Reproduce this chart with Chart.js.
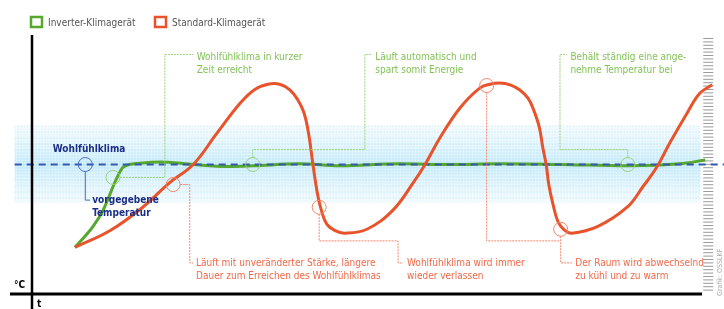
<!DOCTYPE html>
<html>
<head>
<meta charset="utf-8">
<script src="https://cdn.jsdelivr.net/npm/chart.js@4.4.1/dist/chart.umd.min.js"></script>
<style>
  html, body { margin: 0; padding: 0; background: #fff; }
  #chart { display: block; }
</style>
</head>
<body>
<canvas id="chart" width="724" height="309"></canvas>
<script>
// time (t) and temperature offset from the target (°C)
const inverterTime = [6.2, 8.8, 10.3, 12.3, 13.2, 15.6, 18.5, 23.3, 28.2, 31.9, 38.7, 44.5, 53.2, 60.4, 67.6, 76.3, 86.1, 93.6, 97.3];
const inverterTemp = [-6.4, -4.8, -3.5, -1.0, -0.2, 0.1, 0.2, 0.0, -0.15, -0.1, 0.05, -0.1, 0.05, 0.0, 0.05, 0.0, -0.1, 0.05, 0.35];

const standardTime = [6.2, 11.3, 16.0, 19.9, 23.3, 26.7, 30.1, 32.2, 34.1, 35.8, 37.3, 38.4, 39.3, 40.0, 40.6, 41.2, 41.8, 42.6, 43.8, 45.2, 48.4, 52.2, 55.1, 56.8, 59.0, 61.9, 64.7, 66.2, 67.6, 69.1, 70.5, 71.7, 72.5, 73.3, 73.8, 74.3, 74.7, 75.3, 76.0, 76.9, 78.0, 81.7, 86.0, 88.3, 90.3, 92.2, 94.7, 96.5, 98.3];
const standardTemp = [-6.4, -5.1, -3.3, -1.4, 0.0, 2.4, 4.75, 5.8, 6.2, 6.2, 5.75, 5.0, 4.0, 2.3, 0.0, -2.1, -3.5, -4.6, -5.1, -5.3, -5.0, -3.5, -1.4, 0.0, 2.1, 4.4, 5.9, 6.2, 6.3, 6.15, 5.75, 5.1, 4.2, 2.9, 1.35, 0.0, -1.6, -3.1, -4.4, -5.05, -5.3, -4.8, -3.3, -1.7, -0.2, 1.7, 4.0, 5.5, 6.15];

const targetTemp = 0;
const comfortBand = [-3, 3];

const seriesLabels = ['Inverter-Klimagerät', 'Standard-Klimagerät'];
const seriesColors = ['#55a82c', '#e8532b'];

const greenText = '#84c25a';
const orangeText = '#f0694a';
const navyText = '#1c2f86';
const font = '"Liberation Sans Narrow", "DejaVu Sans Condensed", "Roboto", sans-serif';

// callouts: circle on a curve, connector path (data units) and text
const notes = [
  { color: '#9ad27a', textColor: greenText, circle: [11.7, -1.0], path: [[11.7, -1.0], [19.2, -1.0], [19.2, 8.5], [23.3, 8.5]], textAt: [23.8, 8.3], lines: ['Wohlfühlklima in kurzer', 'Zeit erreicht'] },
  { color: '#9ad27a', textColor: greenText, circle: [31.9, 0], path: [[31.9, 0], [31.9, 1.15], [48.1, 1.15], [48.1, 8.5], [49.1, 8.5]], textAt: [49.6, 8.3], lines: ['Läuft automatisch und', 'spart somit Energie'] },
  { color: '#9ad27a', textColor: greenText, circle: [86.1, 0], path: [[86.1, 0], [86.1, 1.15], [76.3, 1.15], [76.3, 8.5], [77.3, 8.5]], textAt: [77.8, 8.3], lines: ['Behält ständig eine ange-', 'nehme Temperatur bei'] },
  { color: '#f2866a', textColor: orangeText, circle: [20.4, -1.55], path: [[20.4, -1.55], [22.8, -1.55], [22.8, -7.6], [23.3, -7.6]], textAt: [23.7, -7.6], lines: ['Läuft mit unveränderter Stärke, längere', 'Dauer zum Erreichen des Wohlfühlklimas'] },
  { color: '#f2866a', textColor: orangeText, circle: [41.5, -3.3], path: [[41.5, -3.3], [41.5, -5.9], [52.9, -5.9], [52.9, -7.6], [53.6, -7.6]], textAt: [54.2, -7.6], lines: ['Wohlfühlklima wird immer', 'wieder verlassen'] },
  { color: '#f2866a', textColor: orangeText, circle: [65.7, 6.1], path: [[65.7, 6.1], [65.7, -5.9], [76.3, -5.9]], textAt: null, lines: [] },
  { color: '#f2866a', textColor: orangeText, circle: [76.4, -5.0], path: [[76.4, -5.0], [76.4, -7.6], [78.0, -7.6]], textAt: [78.5, -7.6], lines: ['Der Raum wird abwechselnd', 'zu kühl und zu warm'] },
  { color: '#4a6cc0', textColor: navyText, circle: [7.7, 0], path: [[7.7, 0], [7.7, -2.75], [8.4, -2.75]], textAt: [8.7, -2.75], lines: ['vorgegebene', 'Temperatur'], bold: true }
];

function toPoints(xs, ys) {
  return xs.map((x, i) => ({ x: x, y: ys[i] }));
}

// comfort band + ruler behind the curves, dashed target line over the green curve
const backdropPlugin = {
  id: 'backdrop',
  beforeDatasetsDraw(chart) {
    const { ctx, scales: { x, y } } = chart;
    const left = x.getPixelForValue(-2.5);
    const right = x.getPixelForValue(96.6);
    const top = y.getPixelForValue(comfortBand[1]);
    const bottom = y.getPixelForValue(comfortBand[0]);
    const mid = y.getPixelForValue(targetTemp);

    ctx.save();
    const grad = ctx.createLinearGradient(0, top, 0, bottom);
    grad.addColorStop(0, 'rgba(215,240,250,0.35)');
    grad.addColorStop(0.3, 'rgba(200,236,250,0.7)');
    grad.addColorStop(0.5, 'rgba(185,230,248,0.9)');
    grad.addColorStop(0.7, 'rgba(200,236,250,0.7)');
    grad.addColorStop(1, 'rgba(215,240,250,0.35)');
    ctx.fillStyle = grad;
    ctx.fillRect(left, top, right - left, bottom - top);
    // dotted texture
    ctx.fillStyle = 'rgba(255,255,255,0.55)';
    for (let py = top + 1; py < bottom; py += 3) {
      for (let px = left + 1; px < right; px += 3) {
        ctx.fillRect(px, py, 1.5, 1.5);
      }
    }
    ctx.fillStyle = 'rgba(160,215,240,0.5)';
    for (let py = top; py < bottom; py += 6) {
      if (Math.abs(py - mid) < 14) continue;
      for (let px = left; px < right; px += 3) {
        ctx.fillRect(px, py, 1, 1);
      }
    }

    // ruler on the right edge
    ctx.fillStyle = '#9a9a9a';
    const rx = x.getPixelForValue(97.0);
    for (let py = 38; py < 292; py += 3.4) {
      ctx.fillRect(rx, py, 10, 1);
    }
    ctx.restore();
  },
  afterDatasetDraw(chart, args) {
    if (args.index !== 1) return;
    const { ctx, scales: { x, y } } = chart;
    const py = y.getPixelForValue(targetTemp);
    ctx.save();
    ctx.strokeStyle = '#3558b0';
    ctx.lineWidth = 2;
    ctx.setLineDash([7, 5]);
    ctx.beginPath();
    ctx.moveTo(x.getPixelForValue(-2.5), py);
    ctx.lineTo(x.getPixelForValue(100), py);
    ctx.stroke();
    ctx.restore();
  }
};

const overlayPlugin = {
  id: 'overlay',
  afterDraw(chart) {
    const { ctx, scales: { x, y } } = chart;
    const r = 7;
    ctx.save();

    // axes
    ctx.strokeStyle = '#000';
    ctx.lineWidth = 2.5;
    ctx.beginPath();
    ctx.moveTo(32, 35);
    ctx.lineTo(32, 309);
    ctx.stroke();
    ctx.lineWidth = 3;
    ctx.beginPath();
    ctx.moveTo(10, 294);
    ctx.lineTo(702, 294);
    ctx.stroke();
    ctx.fillStyle = '#000';
    ctx.font = 'bold 10px ' + font;
    ctx.textBaseline = 'middle';
    ctx.fillText('°C', 14, 285);
    ctx.fillText('t', 37, 304);

    // legend
    ctx.font = '10px ' + font;
    const legendX = [30, 154];
    seriesLabels.forEach((label, i) => {
      ctx.strokeStyle = seriesColors[i];
      ctx.lineWidth = 2.5;
      ctx.strokeRect(legendX[i] + 1, 17, 11, 10);
      ctx.fillStyle = '#555';
      ctx.fillText(label, legendX[i] + 18, 23);
    });

    // callouts
    notes.forEach((note) => {
      const cx = x.getPixelForValue(note.circle[0]);
      const cy = y.getPixelForValue(note.circle[1]);
      const pts = note.path.map((p) => [x.getPixelForValue(p[0]), y.getPixelForValue(p[1])]);
      const dx = pts[1][0] - pts[0][0];
      const dy = pts[1][1] - pts[0][1];
      const len = Math.hypot(dx, dy) || 1;
      pts[0] = [cx + (dx / len) * r, cy + (dy / len) * r];

      ctx.strokeStyle = note.color;
      ctx.lineWidth = 1;
      ctx.setLineDash(note.bold ? [] : [2, 1]);
      ctx.beginPath();
      ctx.moveTo(pts[0][0], pts[0][1]);
      pts.slice(1).forEach((p) => ctx.lineTo(p[0], p[1]));
      ctx.stroke();
      ctx.setLineDash([]);
      ctx.beginPath();
      ctx.arc(cx, cy, r, 0, Math.PI * 2);
      ctx.stroke();

      if (note.textAt) {
        ctx.fillStyle = note.textColor;
        ctx.font = (note.bold ? 'bold ' : '') + '10px ' + font;
        const tx = x.getPixelForValue(note.textAt[0]);
        const ty = y.getPixelForValue(note.textAt[1]);
        note.lines.forEach((line, i) => ctx.fillText(line, tx, ty + i * 13.5));
      }
    });

    ctx.fillStyle = navyText;
    ctx.font = 'bold 10px ' + font;
    ctx.fillText('Wohlfühlklima', x.getPixelForValue(3.0), y.getPixelForValue(1.2));

    // credit, rotated
    ctx.translate(720, 296);
    ctx.rotate(-Math.PI / 2);
    ctx.fillStyle = '#aaa';
    ctx.font = '7px ' + font;
    ctx.fillText('Grafik: OSSLKF', 0, 0);
    ctx.restore();
  }
};

const ctx = document.getElementById('chart').getContext('2d');
new Chart(ctx, {
  type: 'line',
  data: {
    datasets: [
      {
        label: seriesLabels[1],
        data: toPoints(standardTime, standardTemp),
        borderColor: seriesColors[1],
        borderWidth: 3,
        pointRadius: 0,
        tension: 0.4,
      },
      {
        label: seriesLabels[0],
        data: toPoints(inverterTime, inverterTemp),
        borderColor: seriesColors[0],
        borderWidth: 3,
        pointRadius: 0,
        cubicInterpolationMode: 'monotone',
      },
    ],
  },
  options: {
    responsive: false,
    animation: false,
    layout: { padding: { left: 32, right: 0, top: 35, bottom: 15 } },
    scales: {
      x: { type: 'linear', min: 0, max: 100, display: false },
      y: { min: -10, max: 10, display: false },
    },
    plugins: {
      legend: { display: false },
      tooltip: { enabled: false },
    },
  },
  plugins: [backdropPlugin, overlayPlugin],
});
</script>
</body>
</html>
